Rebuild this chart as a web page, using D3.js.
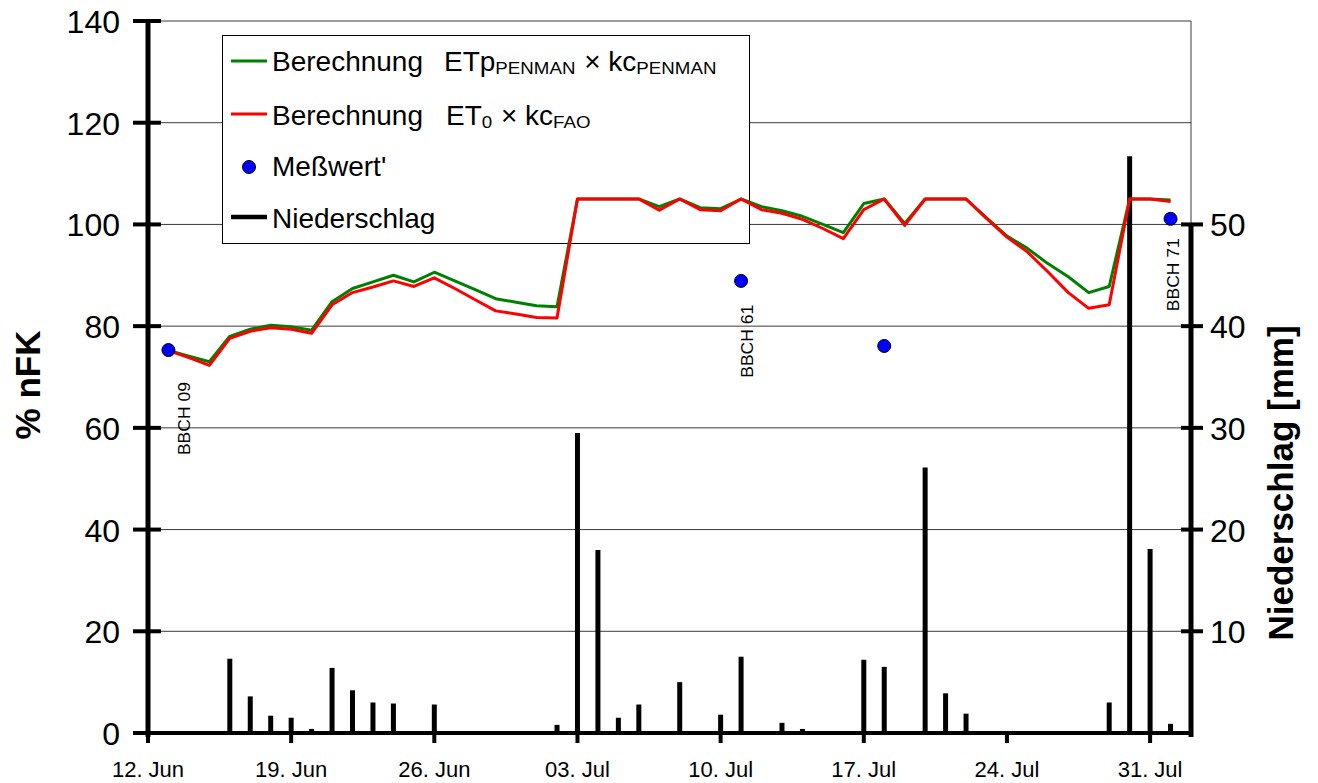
<!DOCTYPE html>
<html>
<head>
<meta charset="utf-8">
<script src="https://cdn.jsdelivr.net/npm/d3@7"></script>
<style>
  html, body { margin: 0; padding: 0; background: #fff; }
  svg { display: block; font-family: "Liberation Sans", Arial, Helvetica, sans-serif; }
</style>
</head>
<body>
<svg id="chart" width="1318" height="783"></svg>
<script>
// ---------------- DATA ----------------
const dayStart = "2005-06-13";   // first daily value of the simulated series
const dayEnd   = "2005-08-01";   // last daily value

// Berechnung ETp(PENMAN) x kc(PENMAN)  [% nFK], daily 13 Jun .. 01 Aug
const seriesPenman = [
  75.2, 74.1, 73.0, 78.0, 79.4, 80.2, 79.9, 79.2, 84.8, 87.4,
  88.7, 90.0, 88.7, 90.6, 88.9, 87.2, 85.4, 84.7, 84.0, 83.8,
  105.0, 105.0, 105.0, 105.0, 103.5, 105.0, 103.3, 103.1, 105.0, 103.5,
  102.7, 101.6, 100.0, 98.4, 104.1, 105.0, 100.2, 105.0, 105.0, 105.0,
  101.3, 97.7, 95.3, 92.3, 89.7, 86.6, 87.8, 105.0, 105.0, 104.8
];
// Berechnung ET0 x kc(FAO)  [% nFK]
const seriesFao = [
  75.2, 73.8, 72.3, 77.6, 79.0, 79.7, 79.4, 78.6, 84.2, 86.6,
  87.7, 88.9, 87.8, 89.5, 87.4, 85.2, 83.0, 82.4, 81.7, 81.6,
  105.0, 105.0, 105.0, 105.0, 102.8, 105.0, 102.9, 102.7, 105.0, 102.9,
  102.2, 101.0, 99.2, 97.2, 102.9, 105.0, 99.8, 105.0, 105.0, 105.0,
  101.2, 97.5, 94.6, 90.7, 86.6, 83.5, 84.2, 105.0, 105.0, 104.5
];

// Meßwert' [% nFK]
const measDates  = ["2005-06-13", "2005-07-11", "2005-07-18", "2005-08-01"];
const measValues = [75.3, 88.9, 76.1, 101.1];

// Niederschlag [mm]
const precipDates = [
  "2005-06-16","2005-06-17","2005-06-18","2005-06-19","2005-06-20","2005-06-21",
  "2005-06-22","2005-06-23","2005-06-24","2005-06-26","2005-07-02","2005-07-03",
  "2005-07-04","2005-07-05","2005-07-06","2005-07-08","2005-07-10","2005-07-11",
  "2005-07-13","2005-07-14","2005-07-17","2005-07-18","2005-07-20","2005-07-21",
  "2005-07-22","2005-07-29","2005-07-30","2005-07-31","2005-08-01"
];
const precipValues = [
  7.3, 3.6, 1.7, 1.5, 0.4, 6.4,
  4.2, 3.0, 2.9, 2.8, 0.8, 29.5,
  18.0, 1.5, 2.8, 5.0, 1.8, 7.5,
  1.0, 0.4, 7.2, 6.5, 26.1, 3.9,
  1.9, 3.0, 56.7, 18.1, 0.9
];

// Growth stage annotations (anchor date / % nFK at the top end of the rotated label)
const bbchLabels = ["BBCH 09", "BBCH 61", "BBCH 71"];
const bbchDates  = ["2005-06-14T01:00", "2005-07-11T14:00", "2005-08-01T10:00"];
const bbchValues = [69.0, 84.2, 97.3];

// Axis ticks
const xDomain     = ["2005-06-12", "2005-08-02"];
const xTickDates  = ["2005-06-12","2005-06-19","2005-06-26","2005-07-03","2005-07-10","2005-07-17","2005-07-24","2005-07-31"];
const yLeftTicks  = [0, 20, 40, 60, 80, 100, 120, 140];
const yRightTicks = [10, 20, 30, 40, 50];

const yLeftTitle  = "% nFK";
const yRightTitle = "Niederschlag [mm]";

// ---------------- CHART ----------------
const parse = s => new Date(s.length > 10 ? s + ":00Z" : s + "T00:00:00Z");
const svg = d3.select("#chart");

const x  = d3.scaleUtc().domain(xDomain.map(parse)).range([148, 1191]);
const yL = d3.scaleLinear().domain([0, 140]).range([733, 21]);
const yR = d3.scaleLinear().domain([0, 70]).range([733, 21]);

const days = d3.utcDay.range(parse(dayStart), d3.utcDay.offset(parse(dayEnd), 1));
const penman = days.map((d, i) => ({ d, v: seriesPenman[i] }));
const fao    = days.map((d, i) => ({ d, v: seriesFao[i] }));

// grid lines
const grid = svg.append("g");
grid.selectAll("line").data(yLeftTicks.filter(v => v > 0)).join("line")
  .attr("x1", x.range()[0]).attr("x2", x.range()[1])
  .attr("y1", d => yL(d)).attr("y2", d => yL(d))
  .attr("stroke", "#3a3a3a").attr("stroke-width", 1);
// right frame line
svg.append("line")
  .attr("x1", x.range()[1]).attr("x2", x.range()[1])
  .attr("y1", yL(140)).attr("y2", yL(0))
  .attr("stroke", "#3a3a3a").attr("stroke-width", 1);

// legend box (behind data)
const leg = svg.append("g");
leg.append("rect").attr("x", 222.5).attr("y", 35.5).attr("width", 527).attr("height", 208)
  .attr("fill", "#fff").attr("stroke", "#000").attr("stroke-width", 1);

function richText(g, x0, y0, parts) {
  let cx = x0;
  parts.forEach(p => {
    if (p.at !== undefined) cx = p.at;
    const sx = p.sub ? 1.17 : 1;
    const t = g.append("text")
      .attr("x", 0).attr("y", 0)
      .attr("font-size", p.sub ? 16 : 28)
      .style("white-space", "pre")
      .attr("fill", "#000")
      .text(p.t);
    t.attr("transform", `translate(${cx},${y0 + (p.sub ? 3 : 0)}) scale(${sx},1)`);
    cx += t.node().getComputedTextLength() * sx + (p.sub ? 1 : 0);
  });
}

// row 1
leg.append("line").attr("x1", 231).attr("x2", 267).attr("y1", 61).attr("y2", 61)
  .attr("stroke", "#008000").attr("stroke-width", 3);
richText(leg, 272, 71, [
  { t: "Berechnung" },
  { t: "ETp", at: 444 }, { t: "PENMAN", sub: true },
  { t: " × kc" }, { t: "PENMAN", sub: true }
]);
// row 2
leg.append("line").attr("x1", 231).attr("x2", 267).attr("y1", 114).attr("y2", 114)
  .attr("stroke", "#ff0000").attr("stroke-width", 3);
richText(leg, 272, 124.5, [
  { t: "Berechnung" },
  { t: "ET", at: 446 }, { t: "0", sub: true },
  { t: " × kc" }, { t: "FAO", sub: true }
]);
// row 3
leg.append("circle").attr("cx", 249).attr("cy", 167).attr("r", 6.5)
  .attr("fill", "#0000ff").attr("stroke", "#000").attr("stroke-width", 1);
richText(leg, 272, 176, [{ t: "Meßwert'" }]);
// row 4
leg.append("line").attr("x1", 231).attr("x2", 267).attr("y1", 217).attr("y2", 217)
  .attr("stroke", "#000").attr("stroke-width", 4.5);
richText(leg, 272, 228, [{ t: "Niederschlag" }]);

// precipitation bars (right axis)
svg.append("g").selectAll("line").data(precipDates.map((d, i) => ({ d: parse(d), v: precipValues[i] })))
  .join("line")
  .attr("x1", d => x(d.d)).attr("x2", d => x(d.d))
  .attr("y1", yR(0)).attr("y2", d => yR(d.v))
  .attr("stroke", "#000").attr("stroke-width", 5);

// lines
const line = d3.line().x(d => x(d.d)).y(d => yL(d.v));
svg.append("path").datum(penman).attr("d", line)
  .attr("fill", "none").attr("stroke", "#008000").attr("stroke-width", 3).attr("stroke-linejoin", "round");
svg.append("path").datum(fao).attr("d", line)
  .attr("fill", "none").attr("stroke", "#ff0000").attr("stroke-width", 3).attr("stroke-linejoin", "round");

// measured points
svg.append("g").selectAll("circle").data(measDates.map((d, i) => ({ d: parse(d), v: measValues[i] })))
  .join("circle")
  .attr("cx", d => x(d.d)).attr("cy", d => yL(d.v)).attr("r", 6.5)
  .attr("fill", "#0000ff").attr("stroke", "#000").attr("stroke-width", 1);

// BBCH annotations
svg.append("g").selectAll("text").data(bbchLabels.map((t, i) => ({ t, d: parse(bbchDates[i]), v: bbchValues[i] })))
  .join("text")
  .attr("transform", d => `translate(${x(d.d)},${yL(d.v)}) rotate(-90)`)
  .attr("text-anchor", "end")
  .attr("font-size", 17)
  .attr("textLength", 73).attr("lengthAdjust", "spacingAndGlyphs")
  .text(d => d.t);

// ---- axes ----
// left axis
const axL = svg.append("g");
axL.append("line").attr("x1", 148).attr("x2", 148).attr("y1", yL(140) - 1).attr("y2", yL(0) + 4)
  .attr("stroke", "#000").attr("stroke-width", 5);
axL.selectAll("line.tick").data(yLeftTicks).join("line").attr("class", "tick")
  .attr("x1", 133).attr("x2", 161).attr("y1", d => yL(d)).attr("y2", d => yL(d))
  .attr("stroke", "#000").attr("stroke-width", 4);
axL.selectAll("text").data(yLeftTicks).join("text")
  .attr("x", 120).attr("y", d => yL(d) + 12)
  .attr("text-anchor", "end").attr("font-size", 32).text(d => d);

// right axis
const axR = svg.append("g");
axR.append("line").attr("x1", 1191).attr("x2", 1191).attr("y1", yR(50)).attr("y2", yR(0) + 4)
  .attr("stroke", "#000").attr("stroke-width", 5);
axR.selectAll("line.tick").data(yRightTicks).join("line").attr("class", "tick")
  .attr("x1", 1181).attr("x2", 1203).attr("y1", d => yR(d)).attr("y2", d => yR(d))
  .attr("stroke", "#000").attr("stroke-width", 4);
axR.selectAll("text").data(yRightTicks).join("text")
  .attr("x", 1210).attr("y", d => yR(d) + 12)
  .attr("text-anchor", "start").attr("font-size", 32).text(d => d);

// bottom axis
const axB = svg.append("g");
axB.append("line").attr("x1", 146).attr("x2", 1193).attr("y1", 733).attr("y2", 733)
  .attr("stroke", "#000").attr("stroke-width", 4);
const fmt = d3.utcFormat("%d. %b");
axB.selectAll("line.tick").data(xTickDates.map(parse)).join("line").attr("class", "tick")
  .attr("x1", d => x(d)).attr("x2", d => x(d)).attr("y1", 731).attr("y2", 743)
  .attr("stroke", "#000").attr("stroke-width", 4);
axB.selectAll("text").data(xTickDates.map(parse)).join("text")
  .attr("x", d => x(d)).attr("y", 777)
  .attr("text-anchor", "middle").attr("font-size", 22).text(d => fmt(d));

// axis titles
svg.append("text").attr("transform", "translate(40,385) rotate(-90)")
  .attr("text-anchor", "middle").attr("font-size", 35).attr("font-weight", "bold").text(yLeftTitle);
svg.append("text").attr("transform", "translate(1293,483) rotate(-90)")
  .attr("text-anchor", "middle").attr("font-size", 35).attr("font-weight", "bold").text(yRightTitle);
</script>
</body>
</html>
